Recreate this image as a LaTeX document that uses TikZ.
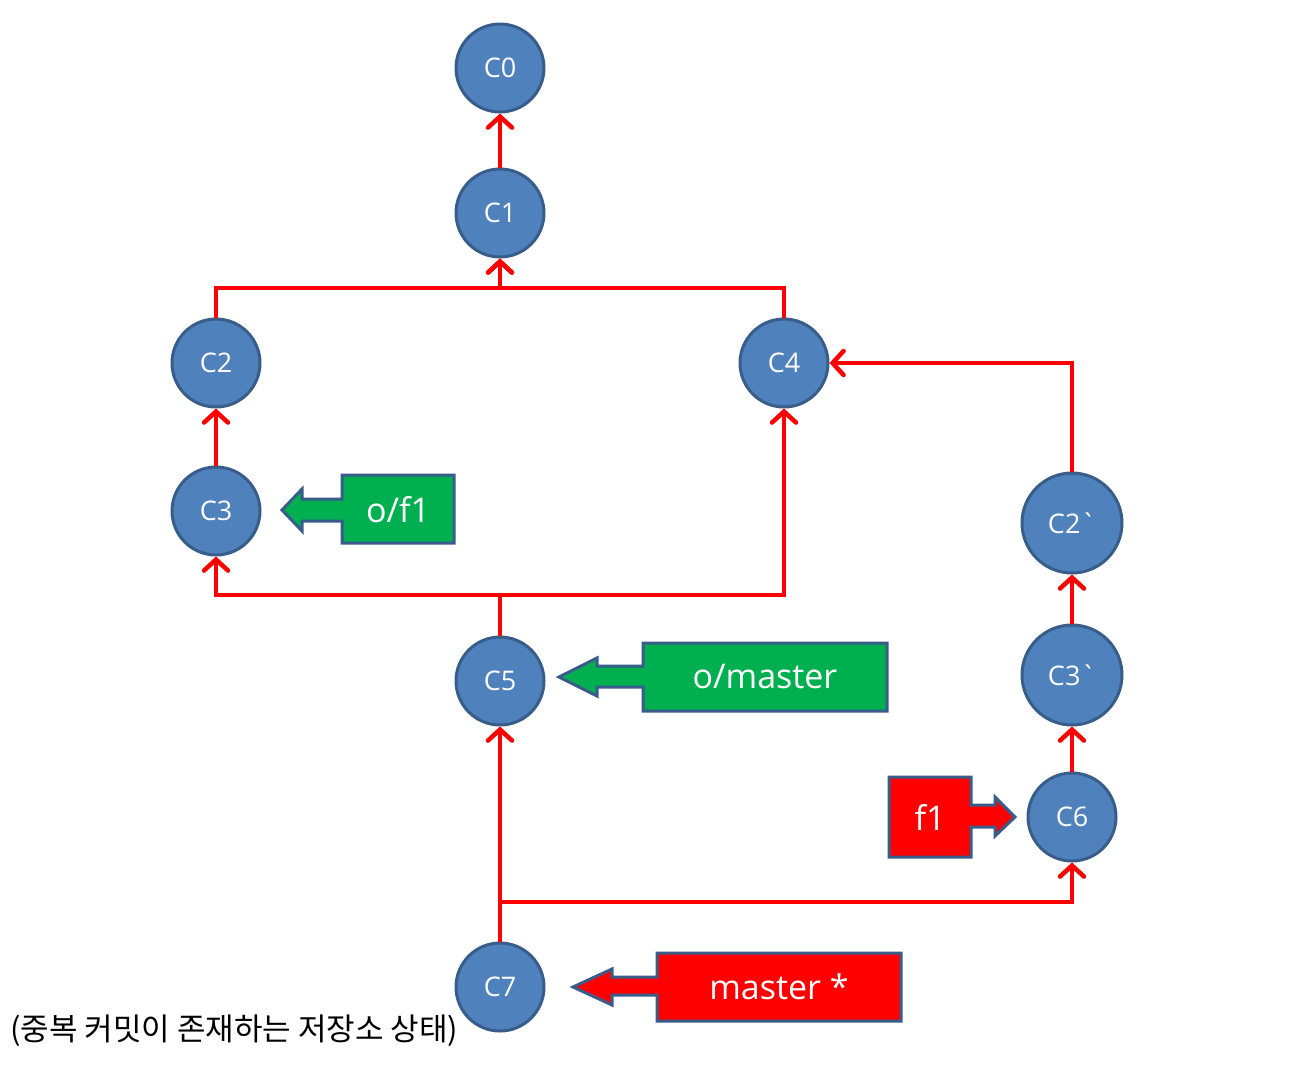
\documentclass[tikz,border=0pt]{standalone}
\usepackage{fontspec}
\setmainfont{Open Sans}
\newfontfamily\krfont{Noto Sans CJK KR}
\usetikzlibrary{arrows.meta}
\definecolor{nodefill}{RGB}{79,129,189}
\definecolor{nodeedge}{RGB}{56,93,138}
\definecolor{lblgreen}{RGB}{0,176,80}
\definecolor{lblred}{RGB}{255,0,0}
\definecolor{lnred}{RGB}{255,0,0}
\newcommand{\gravemark}{\XeTeXglyph\XeTeXcharglyph"60\relax}
\begin{document}
\begin{tikzpicture}[x=1pt,y=-1pt,
 commit/.style={circle,draw=nodeedge,fill=nodefill,line width=3pt,minimum size=88pt,inner sep=0pt,text=white,font=\fontsize{27}{30}\selectfont},
 bigcommit/.style={commit,minimum size=100pt},
 link/.style={draw=lnred,line width=4.5pt,-{Straight Barb[length=11pt,width=24pt,line cap=round]}},
 tagshape/.style={draw=nodeedge,line width=3pt,line join=miter},
 tagtext/.style={text=white,font=\fontsize{34}{38}\selectfont,inner sep=0pt}]
\path[use as bounding box] (0,0) rectangle (1294,1066);

% commits
\node[commit] (C0) at (500,68) {C0};
\node[commit] (C1) at (500,213) {C1};
\node[commit] (C2) at (216,363) {C2};
\node[commit] (C4) at (784,363) {C4};
\node[commit] (C3) at (216,511) {C3};
\node[commit] (C5) at (500,681) {C5};
\node[bigcommit] (C2p) at (1072,523) {C2\gravemark};
\node[bigcommit] (C3p) at (1072,675) {C3\gravemark};
\node[commit] (C6) at (1072,817) {C6};
\node[commit] (C7) at (500,987) {C7};

% junction points
\coordinate (j1) at (500,288);
\coordinate (j2) at (500,595);
\coordinate (j3) at (500,902);

% connectors
\draw[link] (C1.north) -- (C0.south);
\draw[link] (C2.north) |- (j1) -- (C1.south);
\draw[link] (C4.north) |- (j1) -- (C1.south);
\draw[link] (C3.north) -- (C2.south);
\draw[link] (C5.north) -- (j2) -| (C3.south);
\draw[link] (j2) -| (C4.south);
\draw[link] (C2p.north) |- (C4.east);
\draw[link] (C3p.north) -- (C2p.south);
\draw[link] (C6.north) -- (C3p.south);
\draw[link] (C7.north) -- (C5.south);
\draw[link] (j3) -| (C6.south);

% tag o/f1
\draw[tagshape,fill=lblgreen] (342,475) -- (454,475) -- (454,543) -- (342,543) -- (342,521)
  -- (302,521) -- (302,531) -- (282,510) -- (302,489) -- (302,499) -- (342,499) -- cycle;
\node[tagtext] (tof1) at (398,510) {o/f1};

% tag o/master
\draw[tagshape,fill=lblgreen] (643,643) -- (887,643) -- (887,711) -- (643,711) -- (643,687)
  -- (597,687) -- (597,696) -- (559,677) -- (597,658) -- (597,666) -- (643,666) -- cycle;
\node[tagtext] (tomaster) at (765,677) {o/master};

% tag f1
\draw[tagshape,fill=lblred] (889,777) -- (971,777) -- (971,805) -- (995,805) -- (995,797)
  -- (1015,817) -- (995,836) -- (995,827) -- (971,827) -- (971,857) -- (889,857) -- cycle;
\node[tagtext] (tf1) at (930,817) {f1};

% tag master *
\draw[tagshape,fill=lblred] (657,953) -- (901,953) -- (901,1021) -- (657,1021) -- (657,995)
  -- (612,995) -- (612,1005) -- (573,987) -- (612,969) -- (612,977) -- (657,977) -- cycle;
\node[tagtext] (tmaster) at (779,987) {master *};

% caption
\node[anchor=west,inner sep=0pt,font=\krfont\fontsize{31}{34}\selectfont] (cap) at (10,1031) {(중복 커밋이 존재하는 저장소 상태)};
\end{tikzpicture}
\end{document}
